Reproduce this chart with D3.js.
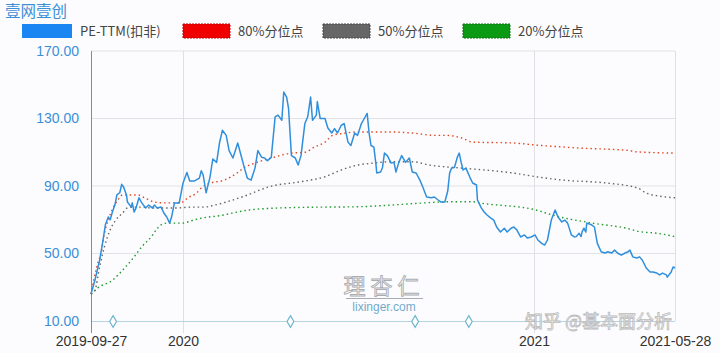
<!DOCTYPE html>
<html><head><meta charset="utf-8">
<script src="https://cdn.jsdelivr.net/npm/d3@7"></script>
<style>
html,body{margin:0;padding:0;background:#fcfcfe;}
svg{display:block;font-family:"Liberation Sans","Noto Sans CJK SC",sans-serif;}
</style></head>
<body><svg id="c" width="720" height="353"></svg>
<script>
const title = "壹网壹创";
const seriesNames = ["PE-TTM(扣非)", "80%分位点", "50%分位点", "20%分位点"];
const yTicks = [10, 50, 90, 130, 170];
const xTickDates = ["2019-09-27", "2020-01-01", "2021-01-01", "2021-05-28"];
const xTickLabels = ["2019-09-27", "2020", "2021", "2021-05-28"];
const eventDates = ["2019-10-20", "2020-04-22", "2020-08-30", "2020-10-25"];

const peSeries = [
["2019-09-27",26],["2019-10-01",34],["2019-10-06",46],["2019-10-09",56],["2019-10-12",67],["2019-10-15",71.6],
["2019-10-17",70],["2019-10-19",74],["2019-10-22",79],["2019-10-24",84.7],["2019-10-27",86],["2019-10-29",91],
["2019-10-31",89.4],["2019-11-03",84.7],["2019-11-04",80.5],["2019-11-08",77.5],["2019-11-09",80],["2019-11-11",74.6],
["2019-11-13",77],["2019-11-16",83],["2019-11-19",80],["2019-11-23",77],["2019-11-26",78.7],["2019-11-30",77],
["2019-12-02",78.7],["2019-12-05",77],["2019-12-09",77.5],["2019-12-12",74],["2019-12-15",71.6],["2019-12-18",68],
["2019-12-20",71.6],["2019-12-23",80],["2019-12-28",80],["2020-01-01",91.8],["2020-01-05",98],["2020-01-08",93],
["2020-01-13",93],["2020-01-18",94.7],["2020-01-20",99],["2020-01-22",96.5],["2020-01-25",86],["2020-01-29",95],
["2020-02-01",106],["2020-02-05",104],["2020-02-08",115.5],["2020-02-11",123],["2020-02-15",120],["2020-02-18",111],
["2020-02-22",106.6],["2020-02-27",115.5],["2020-03-02",107],["2020-03-05",100.6],["2020-03-08",94.7],["2020-03-12",93.5],
["2020-03-16",100.6],["2020-03-19",111],["2020-03-23",107],["2020-03-26",106.6],["2020-03-29",105],["2020-04-02",107],
["2020-04-06",131],["2020-04-09",132],["2020-04-13",129],["2020-04-15",145.7],["2020-04-18",142.7],["2020-04-20",136],
["2020-04-23",108],["2020-04-27",106.6],["2020-04-30",102.4],["2020-05-03",108],["2020-05-07",127],["2020-05-10",131],
["2020-05-13",142.7],["2020-05-15",129],["2020-05-19",132],["2020-05-20",140],["2020-05-23",130],["2020-05-28",130],
["2020-05-31",124.4],["2020-06-04",121.4],["2020-06-07",124],["2020-06-10",121.4],["2020-06-14",126],["2020-06-17",127],
["2020-06-21",116],["2020-06-24",114],["2020-06-28",121.4],["2020-07-01",120],["2020-07-05",127],["2020-07-08",130],
["2020-07-11",133],["2020-07-13",121.4],["2020-07-15",114],["2020-07-18",113],["2020-07-20",103.6],["2020-07-21",97.7],
["2020-07-25",98.3],["2020-07-27",101],["2020-07-29",109.5],["2020-08-01",108],["2020-08-05",103.6],["2020-08-08",104],
["2020-08-10",98.3],["2020-08-13",104],["2020-08-16",108],["2020-08-20",104],["2020-08-24",106.6],["2020-08-27",98.3],
["2020-08-31",97.7],["2020-09-04",93.5],["2020-09-07",89.4],["2020-09-11",83.5],["2020-09-16",83],["2020-09-19",83.5],
["2020-09-23",81.7],["2020-09-26",80.5],["2020-09-30",80.5],["2020-10-03",87],["2020-10-05",97.7],["2020-10-07",100.6],
["2020-10-10",101],["2020-10-13",107],["2020-10-15",109.5],["2020-10-17",104],["2020-10-19",99.5],["2020-10-22",100.6],
["2020-10-26",95.3],["2020-10-29",91.8],["2020-11-02",90.6],["2020-11-03",81.7],["2020-11-07",77],["2020-11-10",74.6],
["2020-11-13",72.8],["2020-11-17",71],["2020-11-20",69.8],["2020-11-23",65.7],["2020-11-27",62.7],["2020-12-01",65],
["2020-12-04",62.7],["2020-12-08",65],["2020-12-11",65.7],["2020-12-14",64],["2020-12-18",59.8],["2020-12-22",61],
["2020-12-25",59.2],["2020-12-29",59.8],["2021-01-02",61],["2021-01-05",58],["2021-01-09",56],["2021-01-12",55],
["2021-01-15",58],["2021-01-19",69.8],["2021-01-23",75.8],["2021-01-26",71.6],["2021-01-30",68.7],["2021-02-02",69.8],
["2021-02-05",68],["2021-02-09",61],["2021-02-12",59.8],["2021-02-14",60],["2021-02-17",62],["2021-02-19",60],
["2021-02-20",62.7],["2021-02-22",65],["2021-02-24",62.7],["2021-02-25",68],["2021-03-02",67],["2021-03-05",65.7],
["2021-03-08",56],["2021-03-12",51],["2021-03-16",50.3],["2021-03-19",51],["2021-03-23",50.3],["2021-03-26",52],
["2021-03-29",50.3],["2021-04-02",49],["2021-04-06",50.3],["2021-04-09",51],["2021-04-11",52],["2021-04-14",48],
["2021-04-18",47.3],["2021-04-21",48],["2021-04-24",46],["2021-04-28",41.4],["2021-05-02",39],["2021-05-05",39],
["2021-05-09",38.4],["2021-05-12",37.3],["2021-05-15",38.4],["2021-05-19",37.3],["2021-05-20",36],["2021-05-24",39],
["2021-05-26",42],["2021-05-28",41.4]
];

const p80Series = [
["2019-09-27",26],["2019-10-03",42],["2019-10-08",52],["2019-10-11",62],["2019-10-15",70],["2019-10-20",77],
["2019-10-25",81.7],["2019-10-30",84.7],["2019-11-08",84.7],["2019-11-15",84.7],["2019-11-22",83],["2019-12-02",80.5],
["2019-12-12",80],["2019-12-20",80],["2019-12-31",80.5],["2020-01-06",83],["2020-01-15",85.8],["2020-01-21",89.4],
["2020-01-30",91.8],["2020-02-13",93.5],["2020-02-27",98],["2020-03-05",101],["2020-03-16",103.6],["2020-04-02",106.6],
["2020-04-23",109.5],["2020-05-07",110],["2020-05-17",113],["2020-05-28",116],["2020-06-05",120],["2020-06-14",121],
["2020-07-01",122],["2020-07-18",122],["2020-08-05",122],["2020-08-27",121.4],["2020-09-19",120],["2020-10-01",120],
["2020-10-18",118.4],["2020-10-29",116],["2020-12-10",115.5],["2021-01-02",114.3],["2021-02-17",112.5],["2021-04-11",111],
["2021-04-16",110.3],["2021-05-28",109.5]
];

const p50Series = [
["2019-09-27",26],["2019-10-01",28],["2019-10-06",42],["2019-10-11",54],["2019-10-17",64],["2019-10-23",70],
["2019-10-30",74],["2019-11-04",77],["2019-11-11",77.5],["2019-11-18",77.5],["2019-11-29",77],["2019-12-12",77],
["2019-12-26",77],["2020-01-10",77.5],["2020-01-23",77.5],["2020-02-03",78.7],["2020-02-18",81],["2020-03-05",84],
["2020-03-31",89.6],["2020-05-02",92.5],["2020-05-28",95.5],["2020-06-14",99.5],["2020-07-01",102.4],["2020-07-18",103.6],
["2020-08-05",104.4],["2020-08-27",104.4],["2020-09-14",102.4],["2020-10-18",100.6],["2020-12-10",97.7],["2021-01-03",95.5],
["2021-01-31",93.5],["2021-03-17",91.8],["2021-04-19",88.8],["2021-04-28",85.8],["2021-05-12",84],["2021-05-28",83]
];

const p20Series = [
["2019-09-27",26],["2019-10-04",29.6],["2019-10-19",34],["2019-11-01",41.4],["2019-11-11",48],["2019-11-19",54],
["2019-11-29",60],["2019-12-04",64],["2019-12-09",67],["2019-12-15",68],["2019-12-31",68],["2020-01-13",70],
["2020-01-27",71.6],["2020-02-03",72],["2020-03-10",75.8],["2020-04-11",77],["2020-05-12",77.4],["2020-07-01",77.7],
["2020-08-05",78.7],["2020-09-09",80],["2020-10-08",80.7],["2020-10-29",80.7],["2020-11-05",80],["2021-01-03",75.8],
["2021-01-20",72.8],["2021-03-03",68],["2021-04-07",65],["2021-04-21",63],["2021-05-09",62],["2021-05-28",60]
];

const colors = {pe:"#2f8fdc", p80:"#e2461f", p50:"#666666", p20:"#1f9a2c"};
const legendFill = ["#1a86f2", "#f00000", "#666666", "#0a9a14"];
const legendStroke = ["#1a86f2", "#c00000", "#444444", "#087010"];

const parse = d3.timeParse("%Y-%m-%d");
const svg = d3.select("#c");
const W = 720, H = 353;
const margin = {left:91, right:45, top:51, bottom:32};

const x = d3.scaleTime()
  .domain([parse(xTickDates[0]), parse(xTickDates[xTickDates.length-1])])
  .range([margin.left, W - margin.right]);
const y = d3.scaleLinear().domain([10,170]).range([H - margin.bottom, margin.top]);

// title
svg.append("text").attr("x",5).attr("y",17).attr("fill","#3d8fd6")
  .style("font-family","'Noto Sans CJK SC',sans-serif").style("font-size","15.5px").text(title);

// legend
const legendX = [22, 183, 323, 463];
seriesNames.forEach((n,i)=>{
  const g = svg.append("g").attr("transform",`translate(${legendX[i]},24)`);
  g.append("rect").attr("width", i===0?50:47).attr("height",14).attr("fill",legendFill[i])
    .attr("stroke",legendStroke[i]).attr("stroke-width", i===0?0:1).attr("stroke-dasharray","2,1");
  g.append("text").attr("x", (i===0?50:47)+8).attr("y",12).attr("fill","#444")
    .style("font-family","'Noto Sans CJK SC',sans-serif").style("font-size","13px").text(n);
});

// horizontal grid
svg.append("g").selectAll("line").data(yTicks.slice(1)).join("line")
  .attr("x1",x.range()[0]).attr("x2",x.range()[1])
  .attr("y1",d=>y(d)).attr("y2",d=>y(d)).attr("stroke","#e2e2e6").attr("stroke-width",1);

// vertical grid
const vGrid = xTickDates.slice(1).map(parse);
svg.append("g").selectAll("line").data(vGrid).join("line")
  .attr("x1",d=>Math.round(x(d))+0.5).attr("x2",d=>Math.round(x(d))+0.5)
  .attr("y1",y(170)).attr("y2",(d,i)=>i===vGrid.length-1?y(10):y(10)+12)
  .attr("stroke","#e0e0e4").attr("stroke-width",1);

// bottom line (light blue)
svg.append("line").attr("x1",x.range()[0]).attr("x2",x.range()[1])
  .attr("y1",y(10)+0.5).attr("y2",y(10)+0.5).attr("stroke","#b6d3e2").attr("stroke-width",1);

// left axis line
svg.append("line").attr("x1",margin.left+0.5).attr("x2",margin.left+0.5)
  .attr("y1",y(170)).attr("y2",y(10)+12).attr("stroke","#8a8a8a").attr("stroke-width",1);

// y axis labels
const yAxis = d3.axisLeft(y).tickValues(yTicks).tickFormat(d3.format(".2f")).tickSize(0).tickPadding(12);
const ya = svg.append("g").attr("transform",`translate(${margin.left},0)`).call(yAxis);
ya.select(".domain").remove();
ya.selectAll("text").attr("fill","#3a8fd8").style("font-size","14px")
  .style("font-family","'Liberation Sans',Arial,sans-serif");

// x axis labels
const xAxis = d3.axisBottom(x).tickValues(xTickDates.map(parse))
  .tickFormat((d,i)=>xTickLabels[i]).tickSize(0).tickPadding(15);
const xa = svg.append("g").attr("transform",`translate(0,${y(10)})`).call(xAxis);
xa.select(".domain").remove();
xa.selectAll("text").attr("fill","#333").style("font-size","14px")
  .style("font-family","'Liberation Sans',Arial,sans-serif");

// watermark
const wm = svg.append("g").attr("opacity",0.85);
wm.append("text").attr("x",384).attr("y",294).attr("text-anchor","middle")
  .attr("fill","#fff").attr("stroke","#9aa0a6").attr("stroke-width",0.9)
  .style("font-family","'Noto Sans CJK SC',sans-serif").style("font-size","22px").style("letter-spacing","5px").text("理杏仁");
wm.append("line").attr("x1",346).attr("x2",423).attr("y1",298.5).attr("y2",298.5).attr("stroke","#9aa0a6");
wm.append("text").attr("x",384).attr("y",311).attr("text-anchor","middle").attr("fill","#5a9cc4")
  .style("font-size","12px").style("font-family","'Liberation Sans',Arial,sans-serif").text("lixinger.com");

// lines
const line = d3.line().x(d=>x(parse(d[0]))).y(d=>y(d[1]));
const smooth = d3.line().x(d=>x(parse(d[0]))).y(d=>y(d[1])).curve(d3.curveMonotoneX);
[[p20Series,colors.p20],[p50Series,colors.p50],[p80Series,colors.p80]].forEach(([s,c])=>{
  svg.append("path").datum(s).attr("d",smooth).attr("fill","none").attr("stroke",c)
    .attr("stroke-width",1.4).attr("stroke-dasharray","1.5,3");
});
svg.append("path").datum(peSeries).attr("d",line).attr("fill","none")
  .attr("stroke",colors.pe).attr("stroke-width",1.5).attr("stroke-linejoin","round");

// event markers
svg.append("g").selectAll("path").data(eventDates).join("path")
  .attr("transform",d=>`translate(${x(parse(d))},${y(10)+0.5})`)
  .attr("d",d3.symbol(d3.symbolDiamond,40)).attr("fill","#fff").attr("stroke","#6bb6cf").attr("stroke-width",1.2);

// zhihu watermark
svg.append("text").attr("x",525).attr("y",328).attr("fill","#fff").attr("stroke","#b4b4b4").attr("stroke-width",0.8)
  .attr("opacity",0.9).style("font-family","'Noto Sans CJK SC',sans-serif").style("font-size","18px").text("知乎 @基本面分析");
</script></body></html>
